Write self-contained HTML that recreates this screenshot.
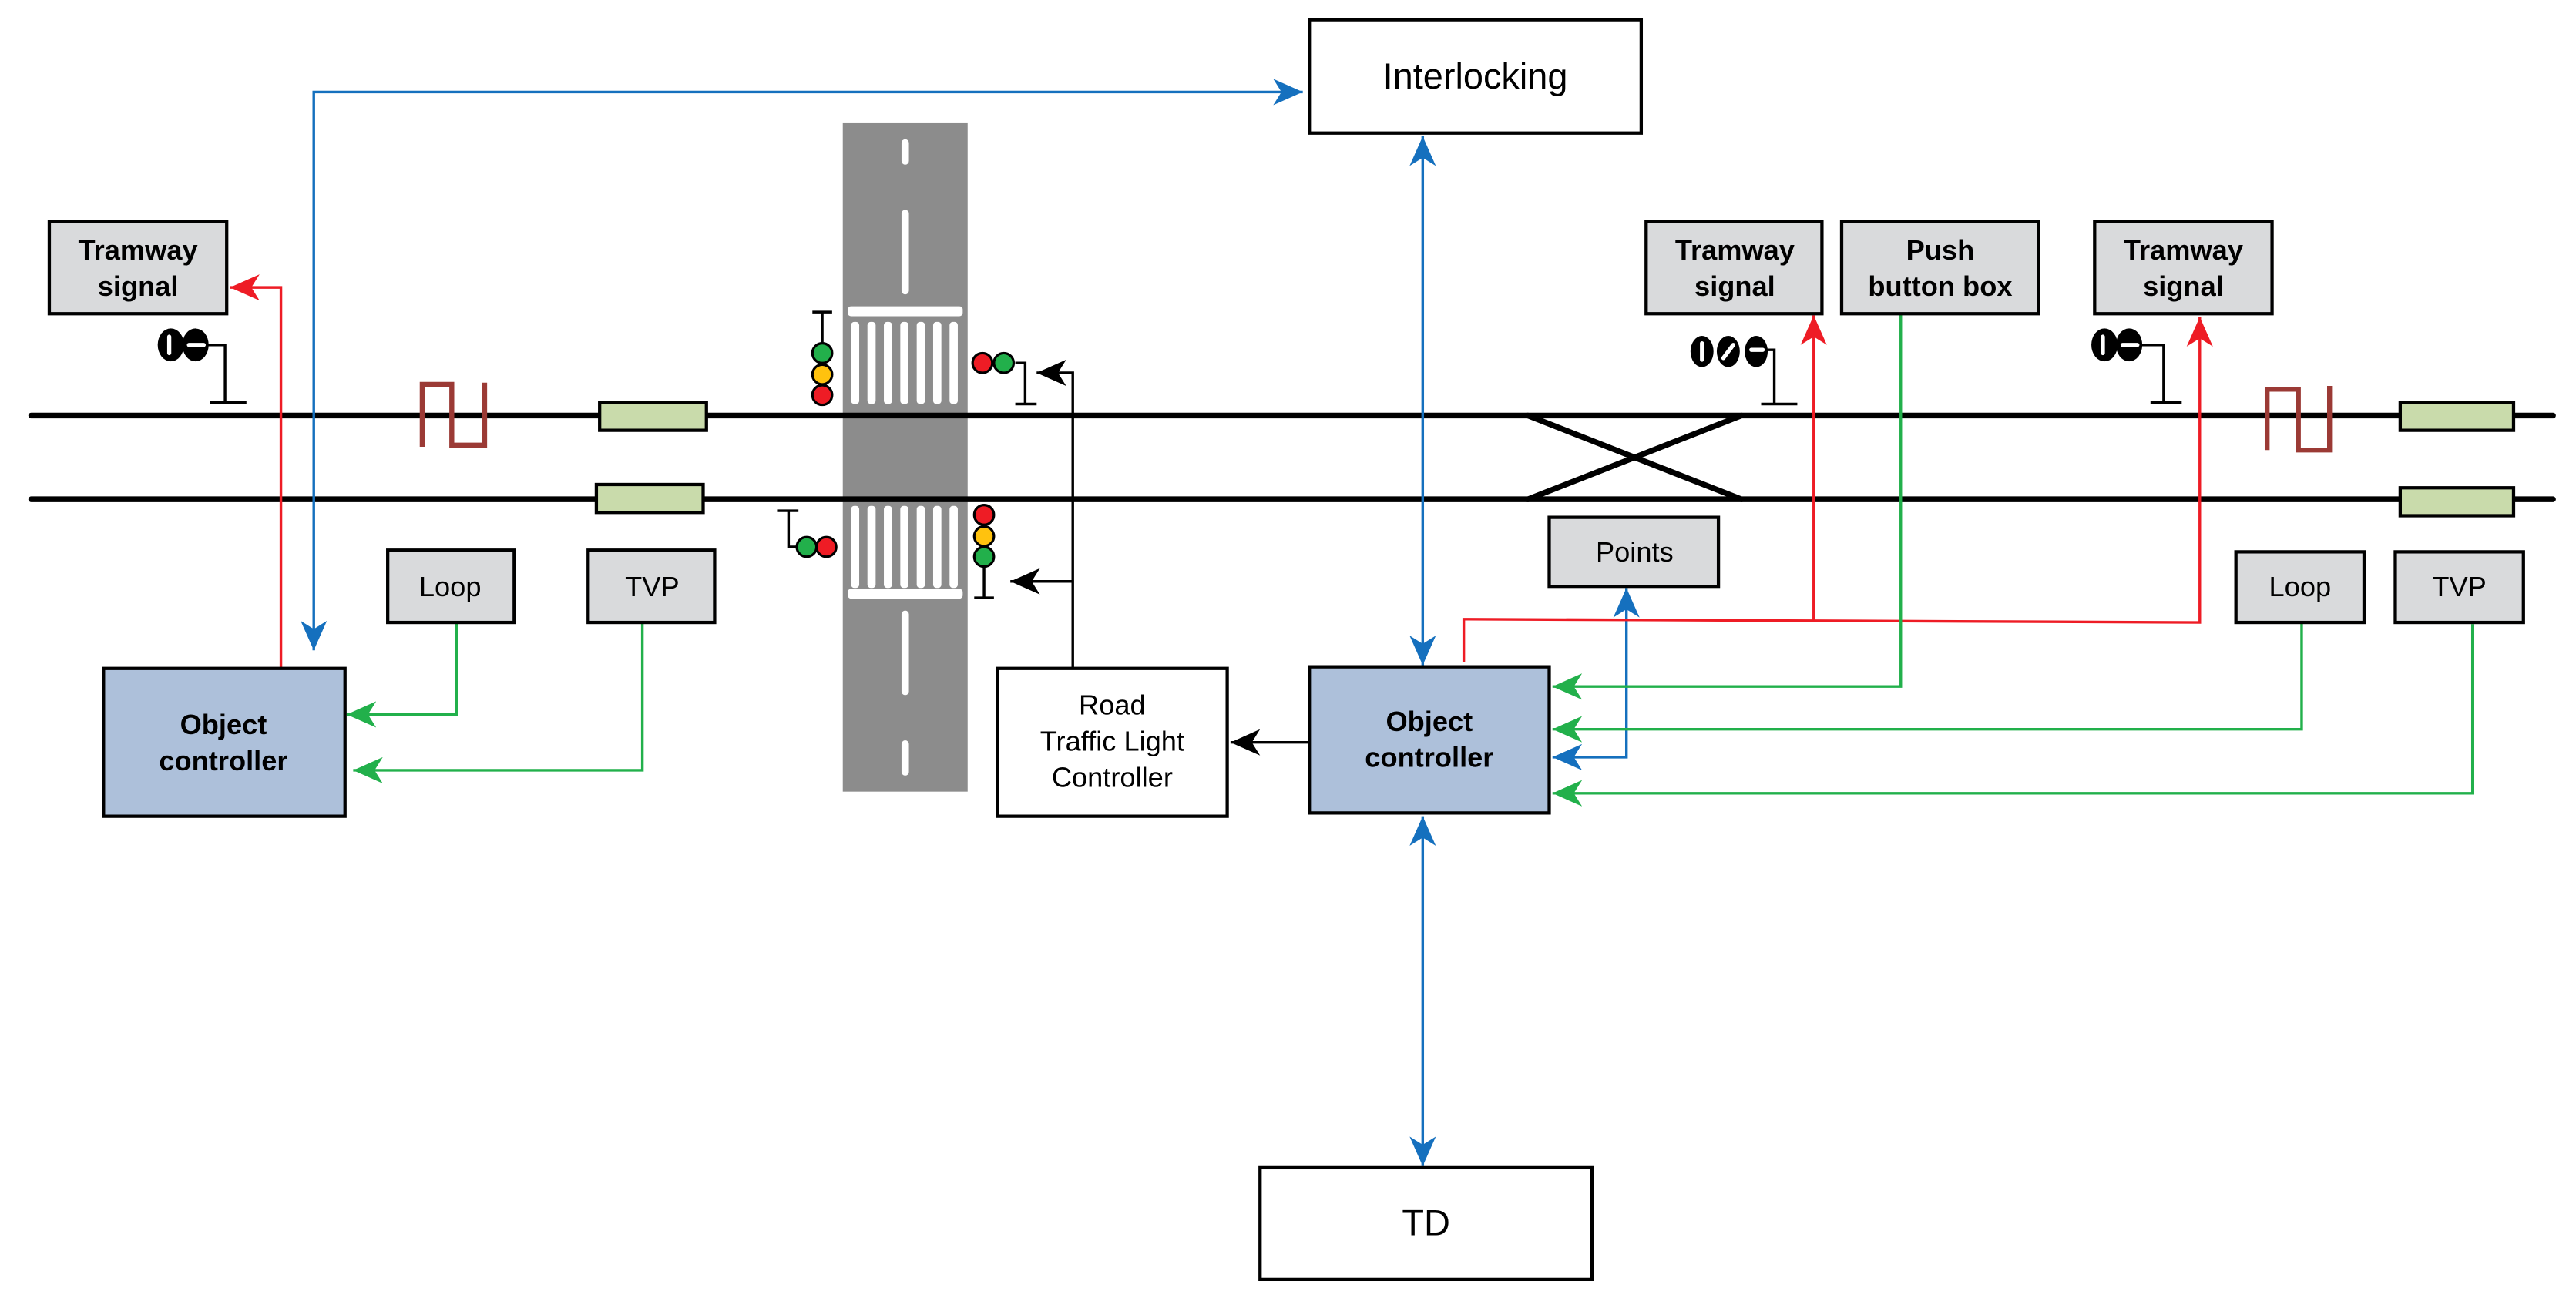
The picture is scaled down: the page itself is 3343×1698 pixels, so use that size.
<!DOCTYPE html>
<html><head><meta charset="utf-8"><style>html,body{margin:0;padding:0;background:#fff}svg{display:block}</style></head><body>
<svg xmlns="http://www.w3.org/2000/svg" width="3343" height="1698" viewBox="0 0 1568 796.4" font-family="Liberation Sans, sans-serif">
<defs>
<marker id="ab" markerUnits="userSpaceOnUse" markerWidth="19" markerHeight="16" refX="18" refY="8" orient="auto-start-reverse"><path d="M0,0 L18,8 L0,16 L5,8 z" fill="#1570be"/></marker>
<marker id="ar" markerUnits="userSpaceOnUse" markerWidth="19" markerHeight="16" refX="18" refY="8" orient="auto-start-reverse"><path d="M0,0 L18,8 L0,16 L5,8 z" fill="#ee1c25"/></marker>
<marker id="ag" markerUnits="userSpaceOnUse" markerWidth="19" markerHeight="16" refX="18" refY="8" orient="auto-start-reverse"><path d="M0,0 L18,8 L0,16 L5,8 z" fill="#22b04b"/></marker>
<marker id="ak" markerUnits="userSpaceOnUse" markerWidth="19" markerHeight="16" refX="18" refY="8" orient="auto-start-reverse"><path d="M0,0 L18,8 L0,16 L5,8 z" fill="#000"/></marker>
</defs>
<rect x="513" y="75" width="76" height="407" fill="#8c8c8c"/>
<g stroke="#fff" stroke-linecap="round" stroke-width="4.5">
<line x1="551" y1="87" x2="551" y2="98"/><line x1="551" y1="130" x2="551" y2="177"/>
<line x1="551" y1="374" x2="551" y2="421"/><line x1="551" y1="453" x2="551" y2="470"/>
</g>
<rect x="516" y="186.5" width="70" height="6" rx="2" fill="#fff"/>
<rect x="516" y="358.5" width="70" height="6" rx="2" fill="#fff"/>
<g fill="#fff">
<rect x="518" y="196" width="5" height="50" rx="2"/><rect x="528" y="196" width="5" height="50" rx="2"/><rect x="538" y="196" width="5" height="50" rx="2"/><rect x="548" y="196" width="5" height="50" rx="2"/><rect x="558" y="196" width="5" height="50" rx="2"/><rect x="568" y="196" width="5" height="50" rx="2"/><rect x="578" y="196" width="5" height="50" rx="2"/>
<rect x="518" y="308" width="5" height="50" rx="2"/><rect x="528" y="308" width="5" height="50" rx="2"/><rect x="538" y="308" width="5" height="50" rx="2"/><rect x="548" y="308" width="5" height="50" rx="2"/><rect x="558" y="308" width="5" height="50" rx="2"/><rect x="568" y="308" width="5" height="50" rx="2"/><rect x="578" y="308" width="5" height="50" rx="2"/>
</g>
<g stroke="#000" stroke-width="3.5" stroke-linecap="round">
<line x1="19" y1="253" x2="1554" y2="253"/><line x1="19" y1="304" x2="1554" y2="304"/>
<line x1="930" y1="253" x2="1060" y2="304"/><line x1="930" y1="304" x2="1060" y2="253"/>
</g>
<g fill="none" stroke="#9b3a35" stroke-width="3">
<path d="M257,272 V234 H275 V271 H295 V233"/><path d="M1380,274 V237 H1399 V274 H1418 V235"/>
</g>
<g fill="#c9dbab" stroke="#000" stroke-width="2">
<rect x="365" y="245" width="65" height="17"/><rect x="363" y="295" width="65" height="17"/>
<rect x="1461" y="245" width="69" height="17"/><rect x="1461" y="297" width="69" height="17"/>
</g>
<g stroke="#000" stroke-width="1.6" fill="none">
<path d="M500.5,190 V209 M494.5,190 H506.5"/>
<path d="M618,221 H624 V246 M618,246 H631"/>
<path d="M473,311 H486 M480,311 V333 H486"/>
<path d="M599,345 V364 M593,364 H605"/>
</g>
<g stroke="#000" stroke-width="1.5">
<circle cx="500.5" cy="215" r="6" fill="#22b04b"/><circle cx="500.5" cy="228" r="6" fill="#ffc20e"/><circle cx="500.5" cy="240.5" r="6" fill="#ee1c25"/>
<circle cx="598" cy="221" r="6" fill="#ee1c25"/><circle cx="611" cy="221" r="6" fill="#22b04b"/>
<circle cx="491" cy="333" r="6" fill="#22b04b"/><circle cx="503" cy="333" r="6" fill="#ee1c25"/>
<circle cx="599" cy="313.5" r="6" fill="#ee1c25"/><circle cx="599" cy="326.5" r="6" fill="#ffc20e"/><circle cx="599" cy="339" r="6" fill="#22b04b"/>
</g>
<g stroke="#000" stroke-width="1.6" fill="none">
<path d="M124,210 H137 V245 M128,245 H150"/>
<path d="M1072,213 H1080 V246 M1072,246 H1094"/>
<path d="M1302,210 H1317 V245 M1309,245 H1328"/>
</g>
<g fill="#000">
<ellipse cx="104" cy="210" rx="8" ry="10"/><ellipse cx="119" cy="210" rx="8" ry="10"/>
<ellipse cx="1036" cy="214" rx="7" ry="9.5"/><ellipse cx="1052" cy="214" rx="7" ry="9.5"/><ellipse cx="1069" cy="214" rx="7" ry="9.5"/>
<ellipse cx="1281" cy="210" rx="8" ry="10"/><ellipse cx="1296" cy="210" rx="8" ry="10"/>
</g>
<g stroke="#fff" stroke-width="2.5" stroke-linecap="round">
<line x1="103" y1="205" x2="103" y2="215"/><line x1="115" y1="210" x2="124" y2="210"/>
<line x1="1036" y1="209" x2="1036" y2="219"/><line x1="1049" y1="218" x2="1055" y2="210"/><line x1="1066" y1="213" x2="1073" y2="213"/>
<line x1="1280" y1="205" x2="1280" y2="215"/><line x1="1292" y1="210" x2="1301" y2="210"/>
</g>
<g fill="none" stroke-width="1.6">
<path d="M191,396 V56 H793" stroke="#1570be" marker-start="url(#ab)" marker-end="url(#ab)"/>
<path d="M866,83 V405" stroke="#1570be" marker-start="url(#ab)" marker-end="url(#ab)"/>
<path d="M866,497 V710" stroke="#1570be" marker-start="url(#ab)" marker-end="url(#ab)"/>
<path d="M990,358 V461 H945" stroke="#1570be" marker-start="url(#ab)" marker-end="url(#ab)"/>
<path d="M171,407 V175 H140" stroke="#ee1c25" marker-end="url(#ar)"/>
<path d="M891,403 V377 L1339,379 V193" stroke="#ee1c25" marker-end="url(#ar)"/>
<path d="M1104,378 V192" stroke="#ee1c25" marker-end="url(#ar)"/>
<path d="M278,379 V435 H211" stroke="#22b04b" marker-end="url(#ag)"/>
<path d="M391,379 V469 H215" stroke="#22b04b" marker-end="url(#ag)"/>
<path d="M1157,190 V418 H945" stroke="#22b04b" marker-end="url(#ag)"/>
<path d="M1401,379 V444 H945" stroke="#22b04b" marker-end="url(#ag)"/>
<path d="M1505,380 V483 H945" stroke="#22b04b" marker-end="url(#ag)"/>
<path d="M653,407 V227 H631" stroke="#000" marker-end="url(#ak)"/>
<path d="M653,354 H615" stroke="#000" marker-end="url(#ak)"/>
<path d="M797,452 H749" stroke="#000" marker-end="url(#ak)"/>
</g>
<g stroke="#000" stroke-width="2">
<rect x="797" y="12" width="202" height="69" fill="#fff"/>
<rect x="767" y="711" width="202" height="68" fill="#fff"/>
<rect x="607" y="407" width="140" height="90" fill="#fff"/>
<rect x="63" y="407" width="147" height="90" fill="#adc0da"/>
<rect x="797" y="406" width="146" height="89" fill="#adc0da"/>
<g fill="#d9dadc">
<rect x="30" y="135" width="108" height="56"/>
<rect x="1002" y="135" width="107" height="56"/>
<rect x="1121" y="135" width="120" height="56"/>
<rect x="1275" y="135" width="108" height="56"/>
<rect x="236" y="335" width="77" height="44"/>
<rect x="358" y="335" width="77" height="44"/>
<rect x="943" y="315" width="103" height="42"/>
<rect x="1361" y="336" width="78" height="43"/>
<rect x="1458" y="336" width="78" height="43"/>
</g>
</g>
<g text-anchor="middle" fill="#000">
<text x="898" y="54" font-size="22">Interlocking</text>
<text x="868" y="752" font-size="22">TD</text>
<g font-size="17">
<text x="677" y="435">Road</text><text x="677" y="457">Traffic Light</text><text x="677" y="479">Controller</text>
<text x="274" y="363">Loop</text><text x="397" y="363">TVP</text>
<text x="995" y="342">Points</text>
<text x="1400" y="363">Loop</text><text x="1497" y="363">TVP</text>
</g>
<g font-size="17" font-weight="bold">
<text x="84" y="158">Tramway</text><text x="84" y="180">signal</text>
<text x="1056" y="158">Tramway</text><text x="1056" y="180">signal</text>
<text x="1181" y="158">Push</text><text x="1181" y="180">button box</text>
<text x="1329" y="158">Tramway</text><text x="1329" y="180">signal</text>
<text x="136" y="447">Object</text><text x="136" y="469">controller</text>
<text x="870" y="445">Object</text><text x="870" y="467">controller</text>
</g>
</g>
</svg>
</body></html>
